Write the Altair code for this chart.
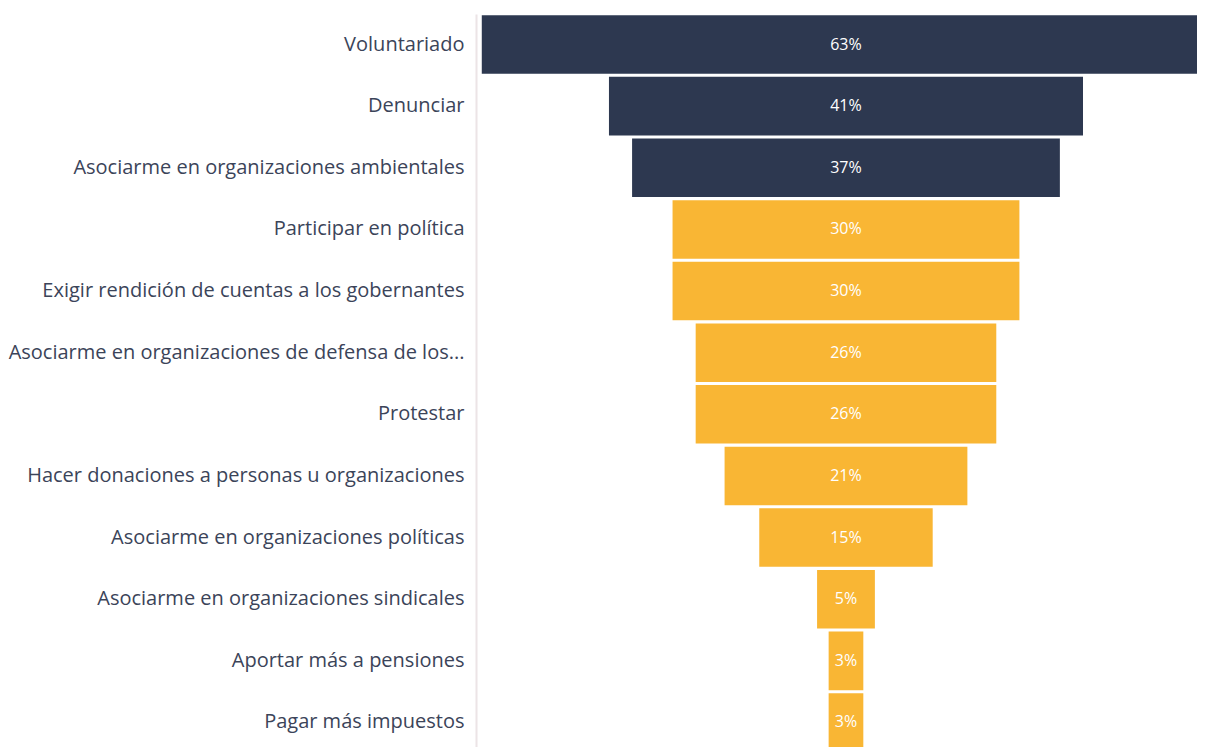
import altair as alt
import pandas as pd

categories = [
    "Voluntariado",
    "Denunciar",
    "Asociarme en organizaciones ambientales",
    "Participar en política",
    "Exigir rendición de cuentas a los gobernantes",
    "Asociarme en organizaciones de defensa de los...",
    "Protestar",
    "Hacer donaciones a personas u organizaciones",
    "Asociarme en organizaciones políticas",
    "Asociarme en organizaciones sindicales",
    "Aportar más a pensiones",
    "Pagar más impuestos",
]
values = [63, 41, 37, 30, 30, 26, 26, 21, 15, 5, 3, 3]
groups = ["alto"] * 3 + ["resto"] * 9

df = pd.DataFrame({"cat": categories, "value": values, "group": groups})

W = 721
H = 739
FONT = "Open Sans"

base = alt.Chart(df).transform_calculate(
    lo="-datum.value/2", hi="datum.value/2", zero="0", label="datum.value + '%'"
)

yenc = alt.Y(
    "cat:N",
    sort=categories,
    title=None,
    scale=alt.Scale(paddingInner=0.05, paddingOuter=0.02),
    axis=alt.Axis(
        labelFontSize=20,
        labelFont=FONT,
        labelColor="#3b4459",
        labelPadding=12,
        ticks=False,
        domainColor="#ece4e6",
        domainWidth=2,
        labelLimit=700,
        grid=False,
    ),
)

bars = base.mark_bar(clip=True).encode(
    y=yenc,
    x=alt.X("lo:Q", scale=alt.Scale(domain=[-32.0, 30.36], nice=False, zero=False), axis=None),
    x2="hi:Q",
    color=alt.Color(
        "group:N",
        scale=alt.Scale(domain=["alto", "resto"], range=["#2d3850", "#f9b634"]),
        legend=None,
    ),
)

text = base.mark_text(color="white", fontSize=16, font=FONT).encode(
    y=alt.Y("cat:N", sort=categories),
    x=alt.X("zero:Q"),
    text="label:N",
)

chart = (
    alt.layer(bars, text)
    .properties(
        width=W,
        height=H,
        autosize=alt.AutoSizeParams(type="none"),
        padding={"left": 468, "top": 6, "right": 0, "bottom": 0},
    )
    .configure_view(stroke=None)
)

chart.save("out.html", embed_options={"renderer": "svg", "actions": False})
